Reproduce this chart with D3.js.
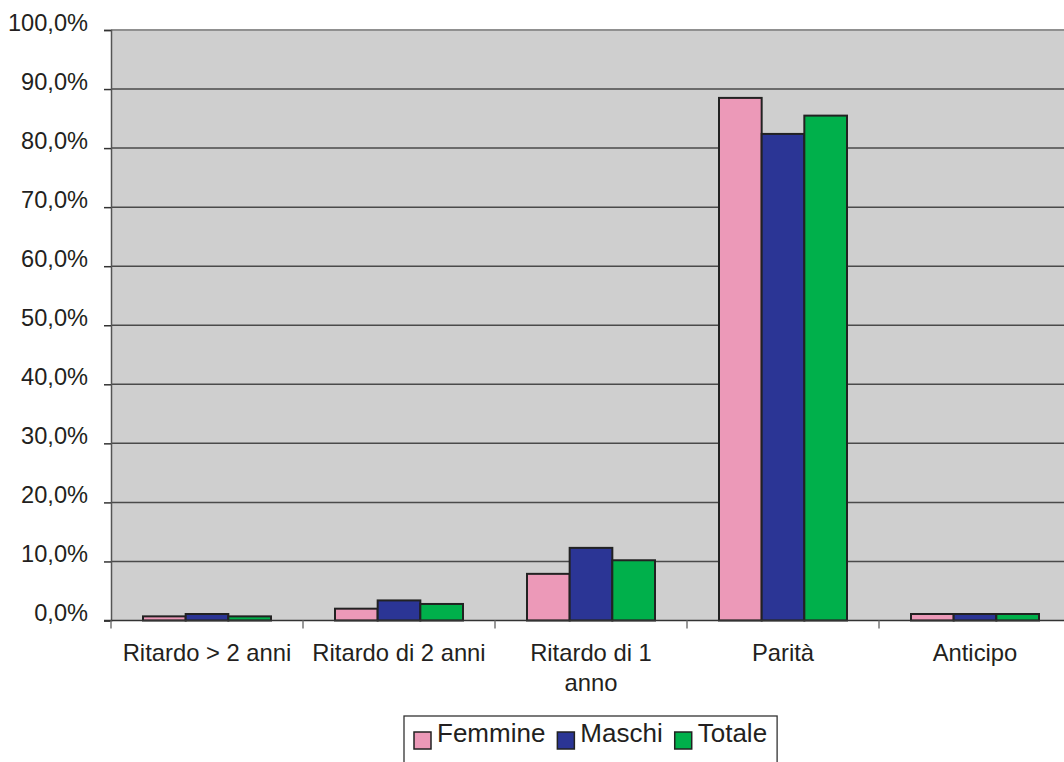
<!DOCTYPE html>
<html>
<head>
<meta charset="utf-8">
<script src="https://cdn.jsdelivr.net/npm/d3@7/dist/d3.min.js"></script>
<style>
  html, body { margin: 0; padding: 0; background: #ffffff; }
  svg { display: block; font-family: "Liberation Sans", Arial, sans-serif; }
</style>
</head>
<body>
<svg id="chart" width="1064" height="762"></svg>
<script>
// ---- data ----
const categories = ["Ritardo > 2 anni", "Ritardo di 2 anni", "Ritardo di 1 anno", "Parità", "Anticipo"];
const seriesNames = ["Femmine", "Maschi", "Totale"];
const femmine = [0.7, 2.0, 7.9, 88.5, 1.1];
const maschi  = [1.1, 3.4, 12.3, 82.4, 1.1];
const totale  = [0.7, 2.8, 10.2, 85.5, 1.1];
const yTicks  = [0, 10, 20, 30, 40, 50, 60, 70, 80, 90, 100];

const seriesValues = [femmine, maschi, totale];
const colors = ["#EC99B8", "#2B3595", "#00B04B"];

// ---- layout ----
const svg = d3.select("#chart");
const plot = { left: 111, right: 1071, top: 30, bottom: 620.5 };

const x = d3.scaleBand().domain(categories).range([plot.left, plot.right]).paddingInner(0).paddingOuter(0);
const xs = d3.scaleBand().domain(seriesNames).range([0, x.bandwidth()]).paddingInner(0).paddingOuter(0.75);
const y = d3.scaleLinear().domain([0, 100]).range([plot.bottom, plot.top]);

const itLocale = d3.formatLocale({ decimal: ",", thousands: ".", grouping: [3], currency: ["", "€"] });
const fmt = v => itLocale.format(".1f")(v) + "%";

// plot background
svg.append("rect")
  .attr("x", plot.left).attr("y", plot.top)
  .attr("width", plot.right - plot.left).attr("height", plot.bottom - plot.top)
  .attr("fill", "#CFCFCF");

// gridlines
svg.append("g").selectAll("line").data(yTicks.filter(t => t > 0 && t < 100)).join("line")
  .attr("x1", plot.left).attr("x2", plot.right)
  .attr("y1", d => y(d)).attr("y2", d => y(d))
  .attr("stroke", "#4a4a4a").attr("stroke-width", 1.5);

// top border
svg.append("line")
  .attr("x1", plot.left).attr("x2", plot.right)
  .attr("y1", y(100)).attr("y2", y(100))
  .attr("stroke", "#909090").attr("stroke-width", 2);

// bars
const barData = [];
categories.forEach((c, i) => {
  seriesNames.forEach((s, j) => barData.push({ c, s, v: seriesValues[j][i], color: colors[j] }));
});
svg.append("g").selectAll("rect").data(barData).join("rect")
  .attr("x", d => x(d.c) + xs(d.s))
  .attr("width", xs.bandwidth())
  .attr("y", d => y(d.v))
  .attr("height", d => y(0) - y(d.v))
  .attr("fill", d => d.color)
  .attr("stroke", "#222222")
  .attr("stroke-width", 2);

// y axis
const yAxis = d3.axisLeft(y).tickValues(yTicks).tickSize(7).tickFormat(fmt);
const gy = svg.append("g").attr("transform", `translate(${plot.left},0)`).call(yAxis);
gy.select(".domain").attr("stroke", "#555555").attr("stroke-width", 1.5);
gy.selectAll(".tick line").attr("stroke", "#333333").attr("stroke-width", 1.5);
gy.selectAll(".tick text")
  .attr("x", -23).attr("dy", "0.02em")
  .attr("font-size", 23.6).attr("fill", "#231f20")
  .attr("font-family", "'Liberation Sans', Arial, sans-serif");

// x baseline
svg.append("line")
  .attr("x1", plot.left - 7).attr("x2", plot.right)
  .attr("y1", y(0)).attr("y2", y(0))
  .attr("stroke", "#333333").attr("stroke-width", 1.5);

// x ticks at category boundaries
const boundaries = categories.map(c => x(c)).concat([x(categories[categories.length - 1]) + x.bandwidth()]);
svg.append("g").selectAll("line").data(boundaries).join("line")
  .attr("x1", d => d).attr("x2", d => d)
  .attr("y1", y(0)).attr("y2", y(0) + 8)
  .attr("stroke", "#777777").attr("stroke-width", 1.5);

// x labels with wrapping
const labelG = svg.append("g");
categories.forEach(c => {
  const cx = x(c) + x.bandwidth() / 2;
  const t = labelG.append("text")
    .attr("x", cx).attr("y", 661)
    .attr("text-anchor", "middle")
    .attr("font-size", 23.8).attr("fill", "#231f20");
  const words = c.split(" ");
  let line = [];
  let lineNo = 0;
  let tspan = t.append("tspan").attr("x", cx).attr("y", 661);
  words.forEach(w => {
    line.push(w);
    tspan.text(line.join(" "));
    if (tspan.node().getComputedTextLength() > 177 && line.length > 1) {
      line.pop();
      tspan.text(line.join(" "));
      line = [w];
      lineNo++;
      tspan = t.append("tspan").attr("x", cx).attr("y", 661 + lineNo * 30).text(w);
    }
  });
});

// legend
const legend = svg.append("g");
const legendBox = legend.append("rect")
  .attr("x", 404).attr("y", 716).attr("width", 375).attr("height", 80)
  .attr("fill", "#ffffff").attr("stroke", "#333333").attr("stroke-width", 1.3);
let lx = 414;
seriesNames.forEach((s, j) => {
  legend.append("rect")
    .attr("x", lx).attr("y", 732).attr("width", 17).attr("height", 17)
    .attr("fill", colors[j]).attr("stroke", "#222222").attr("stroke-width", 1.5);
  const t = legend.append("text")
    .attr("x", lx + 23).attr("y", 742)
    .attr("font-size", 26).attr("fill", "#231f20")
    .text(s);
  lx += 23 + t.node().getComputedTextLength() + 12;
});
legendBox.attr("width", lx - 404 - 2);
</script>
</body>
</html>
